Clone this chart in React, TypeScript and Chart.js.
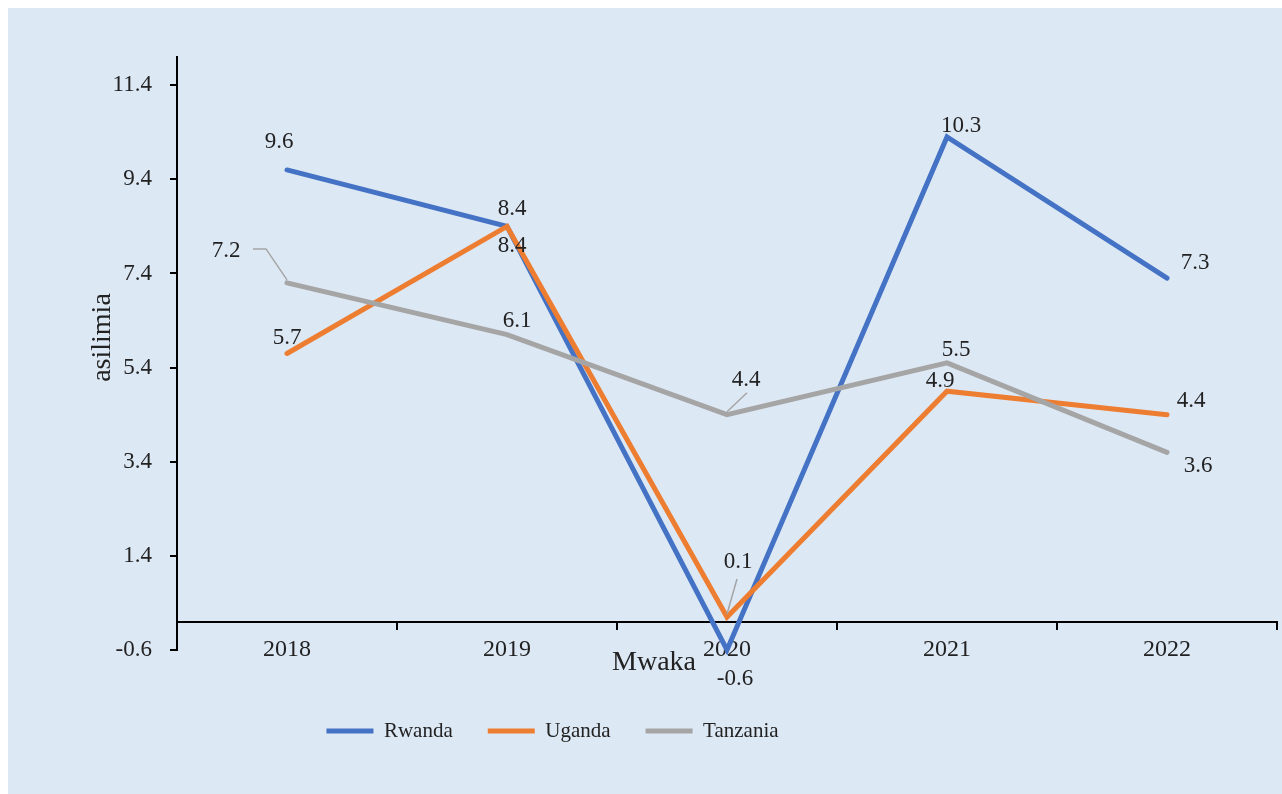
import React, { useEffect, useRef } from "react";
import { Chart, registerables } from "chart.js";

Chart.register(...registerables);

// ---- data ----
const years = ["2018", "2019", "2020", "2021", "2022"];
const rwanda = [9.6, 8.4, -0.6, 10.3, 7.3];
const uganda = [5.7, 8.4, 0.1, 4.9, 4.4];
const tanzania = [7.2, 6.1, 4.4, 5.5, 3.6];
const yTickValues = [-0.6, 1.4, 3.4, 5.4, 7.4, 9.4, 11.4];
const seriesNames = ["Rwanda", "Uganda", "Tanzania"];

// ---- styles ----
const seriesColors = ["#4472C4", "#ED7D31", "#A5A5A5"];
const seriesOrder = [3, 2, 1];
const BG = "#dde8f5";
const TEXT = "#222222";
const FONT = '"Liberation Serif", "Times New Roman", serif';

// label offsets (px) relative to each point, per series
const labelOffsets = [
  [[-8, -28], [5, -17], [8, 29], [14, -11], [28, -15]],
  [[0, -16], [5, 20], [11, -55], [-7, -10], [24, -14]],
  [[-61, -32], [10, -14], [19, -35], [9, -13], [31, 14]],
];
// leader lines: start point relative to the label centre (null = none)
const leaderStarts = [
  [null, null, null, null, null],
  [null, null, [-1, 17], null, null],
  [[[27, -2], [40, -2]], null, [[1, 13]], null, null],
];

const valueLabelPlugin = {
  id: "valueLabels",
  afterDatasetsDraw(chart: any) {
    const ctx = chart.ctx;
    ctx.save();
    chart.data.datasets.forEach((ds: any, i: number) => {
      const meta = chart.getDatasetMeta(i);
      meta.data.forEach((pt: any, j: number) => {
        const off = labelOffsets[i][j];
        const lx = pt.x + off[0];
        const ly = pt.y + off[1];
        const lead: any = leaderStarts[i][j];
        if (lead) {
          const pts: number[][] = Array.isArray(lead[0]) ? lead : [lead];
          ctx.beginPath();
          ctx.strokeStyle = "#A5A5A5";
          ctx.lineWidth = 1.5;
          ctx.moveTo(lx + pts[0][0], ly + pts[0][1]);
          for (let k = 1; k < pts.length; k++) ctx.lineTo(lx + pts[k][0], ly + pts[k][1]);
          ctx.lineTo(pt.x, pt.y - 3);
          ctx.stroke();
        }
        ctx.font = `23px ${FONT}`;
        ctx.fillStyle = TEXT;
        ctx.textAlign = "center";
        ctx.textBaseline = "middle";
        ctx.fillText(Number(ds.data[j]).toFixed(1), lx, ly);
      });
    });
    // axis titles
    const xs = chart.scales.x;
    const ys = chart.scales.y;
    ctx.font = `28px ${FONT}`;
    ctx.fillStyle = TEXT;
    ctx.textAlign = "center";
    ctx.textBaseline = "middle";
    ctx.fillText("Mwaka", xs.getPixelForValue(2) - 73, ys.getPixelForValue(-0.6) + 13);
    ctx.save();
    ctx.translate(95, (chart.chartArea.top + chart.chartArea.bottom) / 2 - 16);
    ctx.rotate(-Math.PI / 2);
    ctx.fillText("asilimia", 0, 0);
    ctx.restore();
    ctx.restore();
  },
};

const legendPlacePlugin = {
  id: "legendPlace",
  afterLayout(chart: any) {
    const lg = chart.legend;
    if (!lg) return;
    const w = lg.width;
    const h = lg.height;
    const cx = 544.5;
    lg.left = cx - w / 2;
    lg.right = cx + w / 2;
    lg.top = 677.5;
    lg.bottom = lg.top + h;
  },
};

export default function App() {
  const ref = useRef<HTMLCanvasElement | null>(null);

  useEffect(() => {
    if (!ref.current) return;
    const allSeries = [rwanda, uganda, tanzania];
    const chart = new Chart(ref.current, {
      type: "line",
      data: {
        labels: years,
        datasets: allSeries.map((d, i) => ({
          label: seriesNames[i],
          data: d,
          borderColor: seriesColors[i],
          backgroundColor: seriesColors[i],
          borderWidth: 5,
          pointRadius: 0,
          pointHoverRadius: 0,
          tension: 0,
          fill: false,
          clip: false,
          order: seriesOrder[i],
          borderCapStyle: "round",
        })),
      },
      options: {
        responsive: false,
        animation: false,
        events: [],
        layout: { padding: { top: 49, left: 0, right: 5, bottom: 78 } },
        font: { family: FONT },
        scales: {
          x: {
            type: "category",
            position: { y: 0 } as any,
            offset: true,
            grid: {
              display: true,
              drawOnChartArea: false,
              drawTicks: true,
              tickLength: 7,
              offset: true,
              color: "#000",
              lineWidth: 2,
            },
            border: { display: true, color: "#000", width: 2 },
            ticks: {
              font: { family: FONT, size: 24 },
              color: TEXT,
              padding: 7,
              maxRotation: 0,
            },
          },
          y: {
            type: "linear",
            min: -0.6,
            max: 12,
            afterBuildTicks: (scale: any) => {
              scale.ticks = yTickValues.map((v) => ({ value: v }));
            },
            afterFit: (scale: any) => {
              scale.width = 169;
            },
            grid: {
              display: true,
              drawOnChartArea: false,
              drawTicks: true,
              tickLength: 7,
              color: "#000",
              lineWidth: 2,
            },
            border: { display: true, color: "#000", width: 2 },
            ticks: {
              font: { family: FONT, size: 23 },
              color: TEXT,
              padding: 18,
              callback: (v: any) => Number(v).toFixed(1),
            },
          },
        },
        plugins: {
          tooltip: { enabled: false },
          title: { display: false },
          legend: {
            display: true,
            position: "bottom",
            labels: {
              font: { family: FONT, size: 21 },
              color: TEXT,
              boxWidth: 47,
              boxHeight: 5,
              padding: 35,
              sort: (a: any, b: any) => a.datasetIndex - b.datasetIndex,
              generateLabels: (c: any) =>
                Chart.defaults.plugins.legend.labels
                  .generateLabels(c)
                  .map((l: any) => ({ ...l, lineWidth: 0, fillStyle: l.strokeStyle })),
            },
          },
        },
      } as any,
      plugins: [valueLabelPlugin, legendPlacePlugin],
    });
    return () => chart.destroy();
  }, []);

  return (
    <div
      style={{
        position: "fixed",
        left: 8,
        top: 8,
        width: 1274,
        height: 786,
        background: BG,
      }}
    >
      <canvas ref={ref} width={1274} height={786} style={{ display: "block" }} />
    </div>
  );
}
